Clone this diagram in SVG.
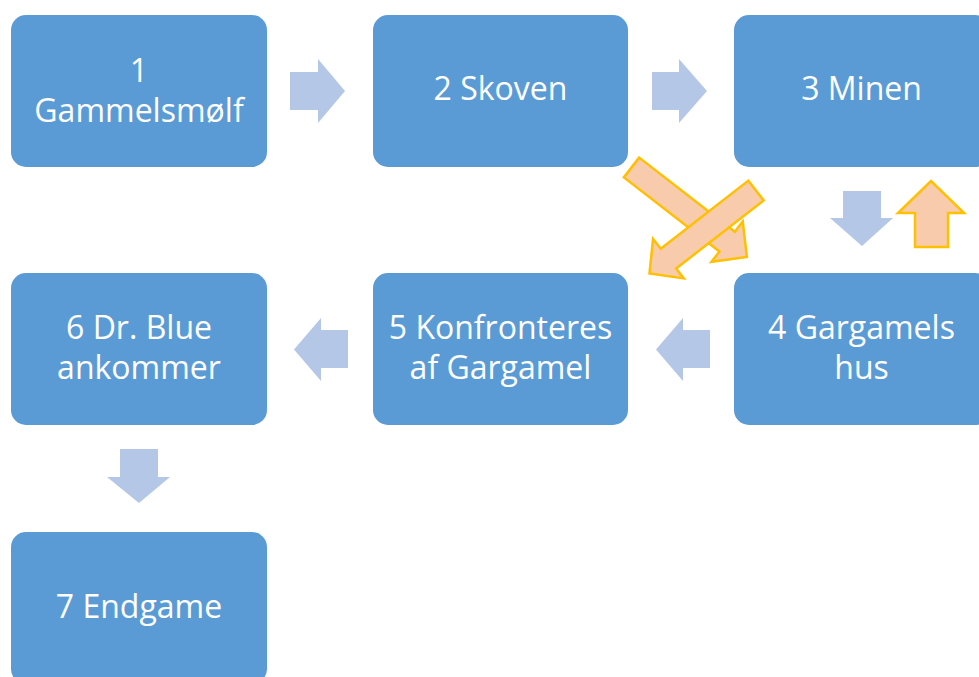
<svg xmlns="http://www.w3.org/2000/svg" width="979" height="677" viewBox="0 0 979 677">
<style>
.box{fill:#5B9BD5;}
.lbl{fill:#FFFFFF;font-family:"Open Sans","Liberation Sans",sans-serif;font-size:32px;text-anchor:middle;}
.arr{fill:#B4C7E7;}
.oarr{fill:#F8CBAD;stroke:#FFC000;stroke-width:2.5;stroke-linejoin:miter;}
</style>
<rect width="979" height="677" fill="#FFFFFF"/>
<g id="connectors">
<polygon class="arr" points="290,72 318,72 318,59 345,91 318,123 318,110 290,110"/>
<polygon class="arr" points="652,72 679,72 679,59 707,91 679,123 679,110 652,110"/>
<polygon class="arr" points="843,191 881,191 881,218 893,218 862,246 830,218 843,218"/>
<polygon class="oarr" points="915,247 948,247 948,213 964,213 931,181 898,213 915,213"/>
<polygon class="arr" points="710,330 683,330 683,318 656,349.5 683,381 683,368 710,368"/>
<polygon class="arr" points="348,330 321,330 321,318 294,349.5 321,381 321,368 348,368"/>
<polygon class="arr" points="120,449 158,449 158,477 170,477 139,503 107,477 120,477"/>
<polygon class="oarr" transform="translate(631.5,167.5) rotate(37.8)" points="0,-12.5 121,-12.5 121,-25.5 146,0 121,25.5 121,12.5 0,12.5"/>
<polygon class="oarr" transform="translate(756,190.5) rotate(142.1)" points="0,-12.5 111,-12.5 111,-25 135,0 111,25 111,12.5 0,12.5"/>
</g>
<g id="node1">
<rect class="box" x="11" y="15" width="256" height="152" rx="15"/>
<text class="lbl" x="139" y="82">1</text>
<text class="lbl" x="139" y="122">Gammelsmølf</text>
</g>
<g id="node2">
<rect class="box" x="373" y="15" width="255" height="152" rx="15"/>
<text class="lbl" x="500.5" y="100">2 Skoven</text>
</g>
<g id="node3">
<rect class="box" x="734" y="15" width="256" height="152" rx="15"/>
<text class="lbl" x="861.5" y="100">3 Minen</text>
</g>
<g id="node4">
<rect class="box" x="734" y="273" width="256" height="152" rx="15"/>
<text class="lbl" x="861.5" y="339">4 Gargamels</text>
<text class="lbl" x="861.5" y="379">hus</text>
</g>
<g id="node5">
<rect class="box" x="373" y="273" width="255" height="152" rx="15"/>
<text class="lbl" x="500.5" y="339">5 Konfronteres</text>
<text class="lbl" x="500.5" y="379">af Gargamel</text>
</g>
<g id="node6">
<rect class="box" x="11" y="273" width="256" height="152" rx="15"/>
<text class="lbl" x="139" y="339">6 Dr. Blue</text>
<text class="lbl" x="139" y="379">ankommer</text>
</g>
<g id="node7">
<rect class="box" x="11" y="532" width="256" height="152" rx="15"/>
<text class="lbl" x="139" y="618">7 Endgame</text>
</g>
</svg>
